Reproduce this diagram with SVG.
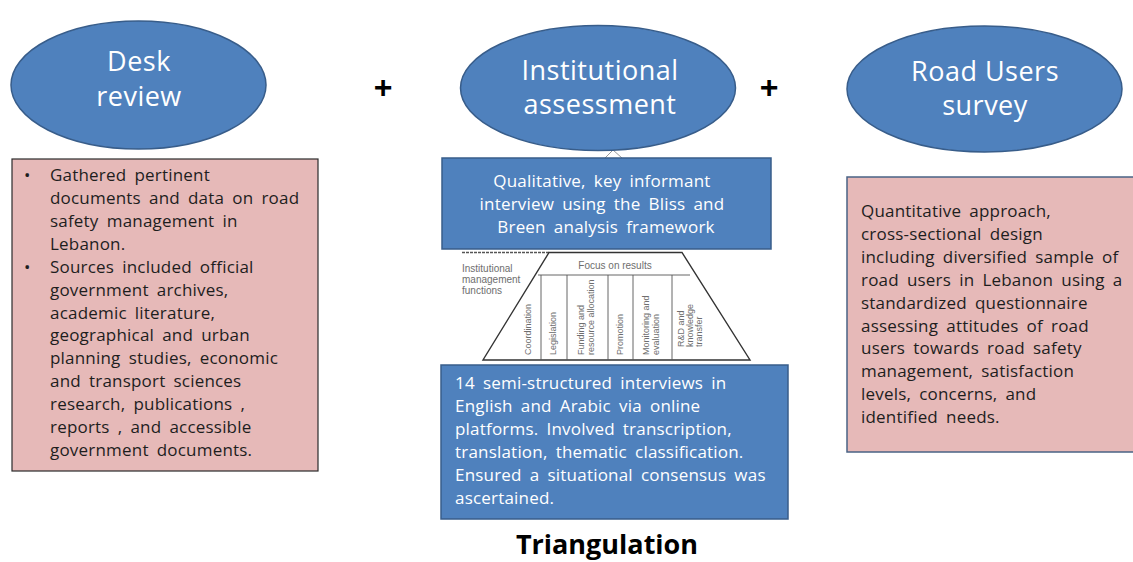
<svg xmlns="http://www.w3.org/2000/svg" width="1133" height="562" viewBox="0 0 1133 562">
<style>
.ell{fill:#4F81BD;stroke:#385D8A;stroke-width:1.5}
.title{font-family:"Open Sans","Liberation Sans",sans-serif;font-size:27px;fill:#FFFFFF;text-anchor:middle;letter-spacing:0.5px}
.plus{font-family:"Liberation Sans",sans-serif;font-size:32px;font-weight:bold;fill:#000;text-anchor:middle}
.pink{fill:#E6B9B8}
.blue{fill:#4F81BD;stroke:#385D8A;stroke-width:1.5}
.dark{font-family:"Open Sans","Liberation Sans",sans-serif;font-size:17px;fill:#1E1E1E;word-spacing:3.5px;letter-spacing:0.2px}
.light{font-family:"Open Sans","Liberation Sans",sans-serif;font-size:17px;fill:#FFFFFF;word-spacing:3.5px;letter-spacing:0.2px}
.small{font-family:"Liberation Sans",sans-serif;font-size:9px;fill:#6E6E6E}
.smallh{font-family:"Liberation Sans",sans-serif;font-size:10px;fill:#6E6E6E}
.trap{fill:#FFFFFF;stroke:#333;stroke-width:1.4}
.col{stroke:#555;stroke-width:0.9}
</style>
<rect width="1133" height="562" fill="#FFFFFF"/>

<g id="desk-review">
<ellipse class="ell" cx="138.5" cy="85" rx="127.5" ry="64"/>
<text class="title" x="139" y="71">Desk</text>
<text class="title" x="139" y="106">review</text>
</g>

<g id="plus-signs">
<text class="plus" x="383" y="98">+</text>
<text class="plus" x="769" y="98">+</text>
</g>

<g id="institutional-assessment">
<polyline points="605,158 613,150 622,158" fill="none" stroke="#999" stroke-width="1"/>
<ellipse class="ell" cx="598" cy="88" rx="137.5" ry="62.5"/>
<text class="title" x="600" y="80">Institutional</text>
<text class="title" x="600" y="114">assessment</text>
</g>

<g id="road-users-survey">
<ellipse class="ell" cx="984.5" cy="89" rx="137.5" ry="63"/>
<text class="title" x="985" y="81">Road Users</text>
<text class="title" x="985" y="115">survey</text>
</g>

<g id="desk-review-box">
<rect class="pink" x="12" y="159" width="306" height="312" stroke="#2B2B2B" stroke-width="1.2"/>
<text class="dark" x="24" y="181">•</text>
<text class="dark" x="24" y="272.7">•</text>
<text class="dark">
<tspan x="50" y="181">Gathered pertinent</tspan>
<tspan x="50" y="203.9">documents and data on road</tspan>
<tspan x="50" y="226.8">safety management in</tspan>
<tspan x="50" y="249.8">Lebanon.</tspan>
<tspan x="50" y="272.7">Sources included official</tspan>
<tspan x="50" y="295.6">government archives,</tspan>
<tspan x="50" y="318.5">academic literature,</tspan>
<tspan x="50" y="341.4">geographical and urban</tspan>
<tspan x="50" y="364.4">planning studies, economic</tspan>
<tspan x="50" y="387.3">and transport sciences</tspan>
<tspan x="50" y="410.2">research, publications ,</tspan>
<tspan x="50" y="433.1">reports , and accessible</tspan>
<tspan x="50" y="456">government documents.</tspan>
</text>
</g>

<g id="qualitative-box">
<rect class="blue" x="442" y="158" width="329" height="91"/>
<text class="light" text-anchor="middle">
<tspan x="606" y="187">Qualitative, key informant</tspan>
<tspan x="606" y="210">interview using the Bliss and</tspan>
<tspan x="606" y="233">Breen analysis framework</tspan>
</text>
</g>

<g id="framework-figure">
<line x1="462" y1="252.5" x2="549" y2="252.5" stroke="#555" stroke-width="1.4" stroke-dasharray="3,1"/>
<polygon class="trap" points="549,252.5 682,252.5 750,360 483,360"/>
<line class="col" x1="538" y1="275" x2="690" y2="275"/>
<line class="col" x1="541" y1="275" x2="541" y2="360"/>
<line class="col" x1="567" y1="275" x2="567" y2="360"/>
<line class="col" x1="608" y1="275" x2="608" y2="360"/>
<line class="col" x1="633" y1="275" x2="633" y2="360"/>
<line class="col" x1="672" y1="275" x2="672" y2="360"/>
<text class="smallh" x="462" y="272">Institutional</text>
<text class="smallh" x="462" y="283">management</text>
<text class="smallh" x="462" y="294">functions</text>
<text class="smallh" x="615" y="269" text-anchor="middle">Focus on results</text>
<text class="small" transform="translate(531,355) rotate(-90)">Coordination</text>
<text class="small" transform="translate(556,355) rotate(-90)">Legislation</text>
<text class="small" transform="translate(584,355) rotate(-90)">Funding and</text>
<text class="small" transform="translate(594,355) rotate(-90)">resource allocation</text>
<text class="small" transform="translate(623,355) rotate(-90)">Promotion</text>
<text class="small" transform="translate(649,355) rotate(-90)">Monitoring and</text>
<text class="small" transform="translate(659,355) rotate(-90)">evaluation</text>
<text class="small" transform="translate(684,347) rotate(-90)">R&amp;D and</text>
<text class="small" transform="translate(693,347) rotate(-90)">knowledge</text>
<text class="small" transform="translate(702,347) rotate(-90)">transfer</text>
</g>

<g id="interviews-box">
<rect class="blue" x="441" y="365" width="347" height="154"/>
<text class="light">
<tspan x="455" y="389">14 semi-structured interviews in</tspan>
<tspan x="455" y="412">English and Arabic via online</tspan>
<tspan x="455" y="435">platforms. Involved transcription,</tspan>
<tspan x="455" y="458">translation, thematic classification.</tspan>
<tspan x="455" y="481">Ensured a situational consensus was</tspan>
<tspan x="455" y="504">ascertained.</tspan>
</text>
</g>

<g id="road-users-box">
<rect class="pink" x="847" y="177" width="300" height="275" stroke="#4A6385" stroke-width="1.5"/>
<text class="dark">
<tspan x="861" y="217">Quantitative approach,</tspan>
<tspan x="861" y="239.9">cross-sectional design</tspan>
<tspan x="861" y="262.8">including diversified sample of</tspan>
<tspan x="861" y="285.7">road users in Lebanon using a</tspan>
<tspan x="861" y="308.6">standardized questionnaire</tspan>
<tspan x="861" y="331.5">assessing attitudes of road</tspan>
<tspan x="861" y="354.4">users towards road safety</tspan>
<tspan x="861" y="377.3">management, satisfaction</tspan>
<tspan x="861" y="400.2">levels, concerns, and</tspan>
<tspan x="861" y="423">identified needs.</tspan>
</text>
</g>

<g id="connectors"></g>

<g id="triangulation-label">
<text x="607" y="554" text-anchor="middle" font-family="'Open Sans','Liberation Sans',sans-serif" font-size="27px" font-weight="bold" fill="#000">Triangulation</text>
</g>
</svg>
